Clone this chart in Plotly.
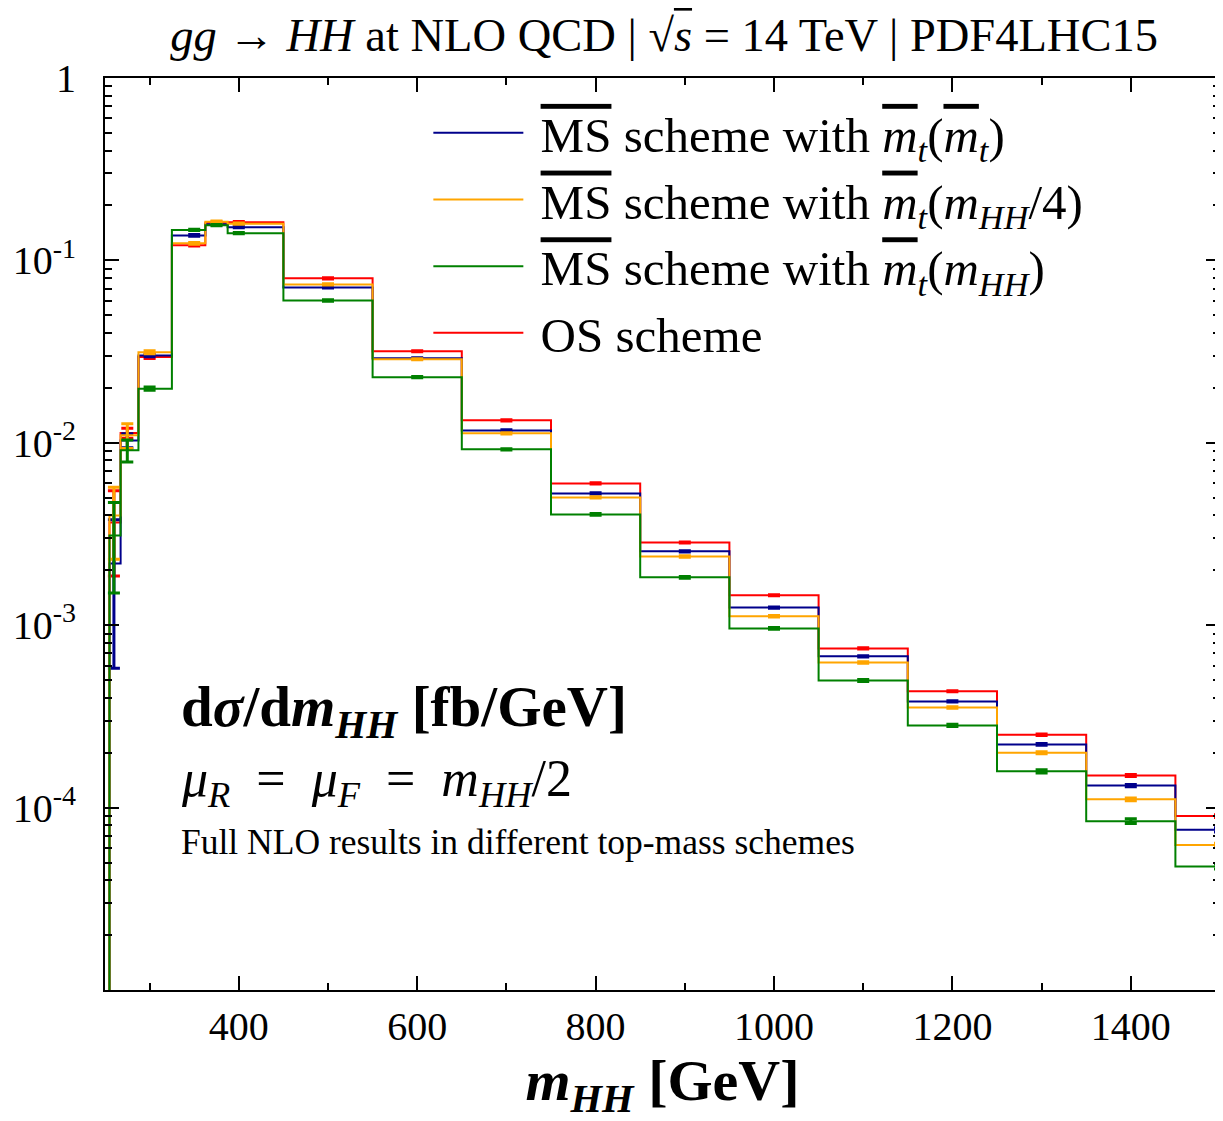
import plotly.graph_objects as go

# m_HH grid points (GeV); step edges lie halfway between points
m_hh = [250, 260, 275, 300, 350, 375, 400, 500, 600, 700, 800, 900, 1000, 1100, 1200, 1300, 1400, 1500]

# dsigma/dm_HH [fb/GeV]; threshold point (250 GeV) is essentially zero
ms_mt = [1e-9, 0.00218, 0.0103, 0.0301, 0.137, 0.158, 0.152, 0.0711, 0.0291, 0.01169, 5.28e-3, 2.54e-3,
         1.25e-3, 6.75e-4, 3.82e-4, 2.22e-4, 1.32e-4, 7.56e-5]
ms_mhh4 = [1e-9, 0.0040, 0.0110, 0.0314, 0.124, 0.163, 0.159, 0.0738, 0.0287, 0.01127, 5.02e-3, 2.38e-3,
           1.12e-3, 6.25e-4, 3.54e-4, 2.00e-4, 1.11e-4, 6.23e-5]
ms_mhh = [1e-9, 0.0031, 0.0091, 0.0198, 0.147, 0.156, 0.141, 0.0603, 0.0229, 0.00921, 4.05e-3, 1.83e-3,
          9.6e-4, 4.98e-4, 2.82e-4, 1.58e-4, 8.43e-5, 4.76e-5]
os_scheme = [1e-9, 0.00366, 0.0113, 0.0295, 0.121, 0.161, 0.162, 0.0797, 0.0318, 0.01328, 5.99e-3, 2.84e-3,
             1.46e-3, 7.46e-4, 4.34e-4, 2.51e-4, 1.50e-4, 8.98e-5]

# numerical integration errors
err_ms_mt = [0, 0.0016, 0.0009, 0.0005, 0.0015, 0.0012, 0.0012, 0.0006, 0.0002, 0.00009, 4e-5, 2e-5,
             1e-5, 6e-6, 3e-6, 2.5e-6, 2e-6, 2e-6]
err_ms_mhh4 = [0, 0.0017, 0.0017, 0.0006, 0.0015, 0.0015, 0.0012, 0.0006, 0.0002, 0.00009, 4e-5, 2e-5,
               1e-5, 6e-6, 3e-6, 2.5e-6, 2e-6, 1.5e-6]
err_ms_mhh = [0, 0.0016, 0.00125, 0.0004, 0.0012, 0.0012, 0.0010, 0.0005, 0.0002, 0.00008, 4e-5, 2e-5,
              1e-5, 6e-6, 4e-6, 3e-6, 2.5e-6, 1.5e-6]
err_os = [0, 0.0018, 0.0007, 0.0005, 0.0012, 0.0012, 0.0012, 0.0006, 0.0002, 0.0001, 4e-5, 2e-5,
          1e-5, 6e-6, 3e-6, 2.5e-6, 2e-6, 1.5e-6]

ov = '<span style="text-decoration:overline">{}</span>'
MSbar = ov.format('MS')
mtbar = '<i>' + ov.format('m') + '</i><sub><i>t</i></sub>'
mHH = '<i>m</i><sub><i>HH</i></sub>'
EQ = '\u2002=\u2002'
LEAD = '\u2005'

series = [
    dict(name=f'{LEAD}{MSbar} scheme with {mtbar}({mtbar})', y=ms_mt, e=err_ms_mt, color='#00008B', rank=1),
    dict(name=f'{LEAD}{MSbar} scheme with {mtbar}({mHH}/4)', y=ms_mhh4, e=err_ms_mhh4, color='#FFA500', rank=2),
    dict(name=f'{LEAD}{MSbar} scheme with {mtbar}({mHH})', y=ms_mhh, e=err_ms_mhh, color='#008000', rank=3),
    dict(name=f'{LEAD}OS scheme', y=os_scheme, e=err_os, color='#FF0000', rank=4),
]
draw_order = [3, 0, 1, 2]

FONT = 'Liberation Serif'
fig = go.Figure()
for i in draw_order:
    s = series[i]
    fig.add_trace(go.Scatter(
        x=m_hh, y=s['y'], name=s['name'], mode='lines',
        line=dict(color=s['color'], width=2, shape='hvh'),
        error_y=dict(type='data', array=s['e'], visible=True, color=s['color'], thickness=3, width=6),
        legendrank=s['rank'],
    ))

major_y = [1, 0.1, 0.01, 0.001, 0.0001]
major_y_text = ['1', '10<sup>-1</sup>', '10<sup>-2</sup>', '10<sup>-3</sup>', '10<sup>-4</sup>']
minor_y = [k * 10.0 ** p for p in range(-5, 0) for k in range(2, 10)]

fig.update_layout(
    width=1215, height=1113,
    margin=dict(l=97, r=3, t=70, b=131, autoexpand=False),
    paper_bgcolor='white', plot_bgcolor='white',
    font=dict(family=FONT, color='black', size=36),
    title=dict(text='<i>gg</i> → <i>HH</i> at NLO QCD | √' + ov.format('<i>s</i>') + ' = 14 TeV | PDF4LHC15',
               x=0.540, xanchor='center', y=0.976, yanchor='middle', font=dict(size=46.5)),
    showlegend=True,
    legend=dict(x=0.29, y=0.982, xanchor='left', yanchor='top', bgcolor='rgba(0,0,0,0)',
                font=dict(size=49), itemwidth=90, tracegroupgap=0),
    xaxis=dict(range=[250, 1500], tickvals=[400, 600, 800, 1000, 1200, 1400], ticks='inside', ticklen=14,
               tickwidth=1.5, tickcolor='black', mirror='ticks', showline=True, linecolor='black', linewidth=2,
               showgrid=False, zeroline=False, tickfont=dict(size=40),
               minor=dict(tickvals=[300, 500, 700, 900, 1100, 1300, 1500], ticks='inside', ticklen=7,
                          tickcolor='black', tickwidth=1.5),
               title=dict(text='<b>' + mHH + ' [GeV]</b>', font=dict(size=58), standoff=20)),
    yaxis=dict(type='log', range=[-5, 0], tickvals=major_y, ticktext=major_y_text, ticks='inside', ticklen=14,
               tickwidth=1.5, tickcolor='black', mirror='ticks', showline=True, linecolor='black', linewidth=2,
               showgrid=False, zeroline=False, tickfont=dict(size=40), ticklabelstandoff=19,
               minor=dict(tickvals=minor_y, ticks='inside', ticklen=7, tickcolor='black', tickwidth=1.5)),
)

fig.add_annotation(xref='paper', yref='paper', x=0.066, y=0.306, xanchor='left', yanchor='middle',
                   text='<b>d<i>σ</i>/d' + mHH + ' [fb/GeV]</b>', showarrow=False, font=dict(size=57))
fig.add_annotation(xref='paper', yref='paper', x=0.066, y=0.228, xanchor='left', yanchor='middle',
                   text='<i>μ</i><sub><i>R</i></sub>' + EQ + '<i>μ</i><sub><i>F</i></sub>' + EQ + mHH + '/2',
                   showarrow=False, font=dict(size=52))
fig.add_annotation(xref='paper', yref='paper', x=0.066, y=0.162, xanchor='left', yanchor='middle',
                   text='Full NLO results in different top-mass schemes', showarrow=False, font=dict(size=35.5))

fig.write_html('out.html')
